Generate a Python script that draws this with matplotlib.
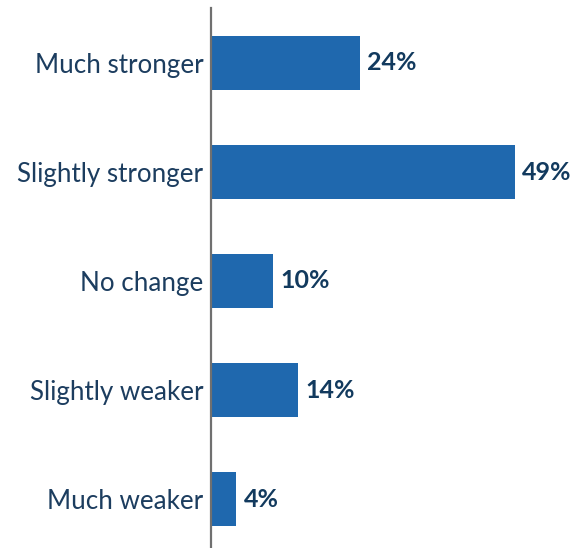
import matplotlib
matplotlib.use("Agg")
import matplotlib.pyplot as plt

categories = ["Much stronger", "Slightly stronger", "No change", "Slightly weaker", "Much weaker"]
values = [24, 49, 10, 14, 4]
value_labels = ["24%", "49%", "10%", "14%", "4%"]

plt.rcParams['font.family'] = ['Lato', 'DejaVu Sans']

W, H = 573, 548
fig = plt.figure(figsize=(W / 100, H / 100), dpi=100)
left_px, right_px, top_px, bot_px = 211, 573, 8, 548
ax = fig.add_axes([left_px / W, 1 - bot_px / H, (right_px - left_px) / W, (bot_px - top_px) / H])

bar_color = "#1f68ae"
text_color = "#1c3d5f"
pos = list(range(len(categories)))
ax.barh(pos, values, height=0.495, color=bar_color, left=0)
ax.set_xlim(0, (right_px - left_px - 1) / 6.18)
ax.set_ylim(4 + 49 / 109, -55 / 109)

for p, v, lab in zip(pos, values, value_labels):
    ax.annotate(lab, xy=(v, p), xytext=(5.5, 0), textcoords="offset points",
                va="center", ha="left", fontsize=18, fontweight="bold", color="#123a5e")

ax.set_yticks(pos)
ax.set_yticklabels(categories, fontsize=18.7, color=text_color)
ax.tick_params(axis="y", length=0, pad=5.5)
ax.set_xticks([])
for s in ["top", "right", "bottom"]:
    ax.spines[s].set_visible(False)
ax.spines["left"].set_color("#707070")
ax.spines["left"].set_linewidth(1.6)
ax.spines["left"].set_zorder(3)

fig.savefig("out.png", dpi=100)
